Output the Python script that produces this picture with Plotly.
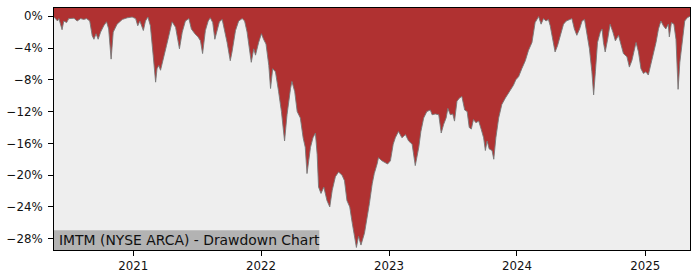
import plotly.graph_objects as go

# Drawdown of IMTM (percent)
dates = [
    "2020-05-20", "2020-05-22", "2020-05-30", "2020-06-03", "2020-06-12", "2020-06-17",
    "2020-06-25", "2020-07-01", "2020-07-16", "2020-07-25", "2020-08-04", "2020-08-13",
    "2020-08-21", "2020-08-30", "2020-09-06", "2020-09-11", "2020-09-17", "2020-09-23",
    "2020-09-30", "2020-10-09", "2020-10-17", "2020-10-23", "2020-10-30", "2020-11-05",
    "2020-11-16", "2020-12-01", "2020-12-15", "2020-12-29", "2021-01-08", "2021-01-14",
    "2021-01-20", "2021-01-30", "2021-02-05", "2021-02-12", "2021-02-19", "2021-02-27",
    "2021-03-06", "2021-03-10", "2021-03-15", "2021-03-20", "2021-03-29", "2021-04-06",
    "2021-04-13", "2021-04-22", "2021-05-02", "2021-05-13", "2021-05-21", "2021-05-30",
    "2021-06-09", "2021-06-16", "2021-06-26", "2021-07-05", "2021-07-12", "2021-07-18",
    "2021-07-26", "2021-08-03", "2021-08-09", "2021-08-16", "2021-08-22", "2021-08-29",
    "2021-09-04", "2021-09-12", "2021-09-19", "2021-09-26", "2021-10-05", "2021-10-10",
    "2021-10-20", "2021-10-29", "2021-11-08", "2021-11-15", "2021-11-22", "2021-11-29",
    "2021-12-04", "2021-12-11", "2021-12-16", "2021-12-25", "2022-01-02", "2022-01-08",
    "2022-01-15", "2022-01-23", "2022-01-28", "2022-02-03", "2022-02-11", "2022-02-20",
    "2022-02-28", "2022-03-09", "2022-03-16", "2022-03-26", "2022-03-30", "2022-04-07",
    "2022-04-14", "2022-04-23", "2022-05-01", "2022-05-07", "2022-05-12", "2022-05-22",
    "2022-05-29", "2022-06-05", "2022-06-10", "2022-06-14", "2022-06-21", "2022-06-29",
    "2022-07-08", "2022-07-16", "2022-07-23", "2022-08-01", "2022-08-10", "2022-08-20",
    "2022-08-27", "2022-09-03", "2022-09-11", "2022-09-18", "2022-09-24", "2022-09-30",
    "2022-10-06", "2022-10-13", "2022-10-23", "2022-10-30", "2022-11-06", "2022-11-14",
    "2022-11-20", "2022-11-28", "2022-12-02", "2022-12-12", "2022-12-22", "2022-12-28",
    "2023-01-05", "2023-01-13", "2023-01-19", "2023-01-28", "2023-02-07", "2023-02-17",
    "2023-02-26", "2023-03-08", "2023-03-17", "2023-03-27", "2023-04-02", "2023-04-10",
    "2023-04-19", "2023-04-29", "2023-05-04", "2023-05-13", "2023-05-23", "2023-05-30",
    "2023-06-06", "2023-06-13", "2023-06-18", "2023-06-25", "2023-07-02", "2023-07-07",
    "2023-07-14", "2023-07-21", "2023-07-28", "2023-08-05", "2023-08-12", "2023-08-18",
    "2023-08-24", "2023-08-30", "2023-09-06", "2023-09-14", "2023-09-21", "2023-09-28",
    "2023-10-03", "2023-10-08", "2023-10-14", "2023-10-22", "2023-10-27", "2023-11-02",
    "2023-11-10", "2023-11-19", "2023-11-29", "2023-12-08", "2023-12-16", "2023-12-22",
    "2023-12-29", "2024-01-06", "2024-01-15", "2024-01-25", "2024-02-03", "2024-02-13",
    "2024-02-22", "2024-03-03", "2024-03-10", "2024-03-17", "2024-03-24", "2024-03-31",
    "2024-04-05", "2024-04-13", "2024-04-19", "2024-04-26", "2024-05-04", "2024-05-13",
    "2024-05-21", "2024-05-30", "2024-06-06", "2024-06-13", "2024-06-20", "2024-06-28",
    "2024-07-05", "2024-07-12", "2024-07-19", "2024-07-26", "2024-08-02", "2024-08-07",
    "2024-08-12", "2024-08-18", "2024-08-26", "2024-08-31", "2024-09-04", "2024-09-09",
    "2024-09-16", "2024-09-23", "2024-10-01", "2024-10-08", "2024-10-17", "2024-10-24",
    "2024-10-31", "2024-11-10", "2024-11-17", "2024-11-24", "2024-12-01", "2024-12-06",
    "2024-12-13", "2024-12-20", "2024-12-27", "2025-01-03", "2025-01-10", "2025-01-17",
    "2025-01-25", "2025-02-01", "2025-02-08", "2025-02-15", "2025-02-22", "2025-03-01",
    "2025-03-08", "2025-03-11", "2025-03-17", "2025-03-24", "2025-03-30", "2025-04-05",
    "2025-04-10", "2025-04-18", "2025-04-24", "2025-05-01", "2025-05-07", "2025-05-09",
]
drawdown = [
    -0.1, -0.2, -0.6, -0.3, -1.7, -0.6,
    -0.8, -0.3, -0.25, -0.6, -0.3, -0.4,
    -0.3, -0.6, -2.45, -2.9, -2.2, -2.9,
    -2.0, -1.2, -0.7, -1.6, -5.4, -2.0,
    -1.0, -0.4, -0.2, -0.1, -0.3, -1.2,
    -0.6, -1.8, -0.6, -0.1, -1.2, -4.9,
    -8.3, -6.6, -6.2, -6.8, -5.3, -3.7,
    -2.4, -0.7, -1.4, -4.1, -2.0, -0.6,
    -0.3, -1.6, -2.2, -2.6, -3.1, -4.7,
    -1.8, -0.6, -0.2, -0.8, -2.9, -1.8,
    -0.7, -0.4, -1.8, -3.3, -5.6, -4.5,
    -1.8, -0.6, -0.3, -0.6, -2.0, -4.1,
    -5.8, -4.1, -4.9, -3.3, -2.2, -2.9,
    -3.5, -6.2, -9.1, -6.6, -7.0, -9.5,
    -12.0, -15.7, -12.4, -9.1, -8.2, -9.5,
    -12.0, -12.8, -15.3, -16.5, -19.8, -16.5,
    -15.3, -14.7, -17.4, -21.5, -22.3, -21.5,
    -23.2, -24.0, -21.9, -20.2, -19.6, -20.0,
    -20.7, -23.2, -24.0, -26.0, -27.7, -29.1,
    -27.7, -28.8, -27.3, -25.6, -23.6, -21.1,
    -19.8, -18.6, -17.8, -18.2, -18.4, -18.6,
    -18.2, -16.1, -15.3, -14.5, -15.3, -14.9,
    -15.7, -16.1, -18.8, -16.5, -14.5, -12.8,
    -12.0, -11.8, -12.4, -12.3, -12.4, -14.7,
    -13.6, -12.8, -11.6, -12.4, -12.3, -13.2,
    -10.7, -10.3, -10.1, -11.8, -12.0, -14.0,
    -14.2, -13.0, -13.4, -13.2, -14.2, -15.3,
    -16.9, -15.7, -16.7, -16.9, -18.0, -15.3,
    -12.8, -11.1, -10.3, -9.7, -9.1, -8.7,
    -8.0, -7.6, -6.6, -5.6, -4.3, -3.3,
    -0.8, -0.05, -1.0, -0.3, -0.6, -0.4,
    -1.2, -3.3, -4.5, -3.7, -2.4, -1.0,
    -0.6, -0.4, -0.3, -1.6, -2.4, -1.6,
    -0.6, -0.4, -2.0, -4.1, -7.0, -9.9,
    -7.0, -3.3, -2.0, -1.6, -3.3, -4.5,
    -2.9, -1.0, -2.0, -3.1, -2.4, -3.7,
    -4.7, -5.1, -6.4, -5.6, -4.1, -3.3,
    -4.5, -6.6, -7.2, -7.0, -7.4, -6.2,
    -4.5, -3.3, -1.6, -0.6, -1.2, -1.6,
    -1.0, -2.6, -0.8, -1.0, -2.9, -9.2,
    -5.8, -2.4, -0.6, -0.2, -0.05, 0.0,
]

y_tick_vals = [0, -4, -8, -12, -16, -20, -24, -28]
y_tick_text = ["0%", "\u22124%", "\u22128%", "\u221212%", "\u221216%", "\u221220%", "\u221224%", "\u221228%"]
x_tick_vals = ["2021-01-01", "2022-01-01", "2023-01-01", "2024-01-01", "2025-01-01"]
x_tick_text = ["2021", "2022", "2023", "2024", "2025"]
title_text = "IMTM (NYSE ARCA) - Drawdown Chart"

Y_TOP = 1.035
Y_BOTTOM = -29.42
RED = "#b03131"
BG = "#eeeeee"
FONT = "DejaVu Sans"

fig = go.Figure()
fig.add_trace(go.Scatter(
    x=dates, y=[Y_TOP] * len(dates), mode="lines",
    line=dict(width=0, color=RED), hoverinfo="skip", showlegend=False,
))
fig.add_trace(go.Scatter(
    x=dates, y=drawdown, mode="lines", fill="tonexty", fillcolor=RED,
    line=dict(width=1, color="rgba(120,120,120,0.9)"), showlegend=False,
))

fig.update_layout(
    width=700, height=280,
    margin=dict(l=53, r=10, t=7, b=28),
    paper_bgcolor="white", plot_bgcolor=BG,
    font=dict(family=FONT, size=11.8, color="#111111"),
    xaxis=dict(
        range=[dates[0], dates[-1]], tickvals=x_tick_vals, ticktext=x_tick_text,
        showgrid=False, zeroline=False, showline=True, mirror=True,
        linecolor="black", linewidth=1, ticks="outside", ticklen=5,
        tickcolor="black", tickwidth=1,
    ),
    yaxis=dict(
        range=[Y_BOTTOM, Y_TOP], tickvals=y_tick_vals, ticktext=y_tick_text,
        showgrid=False, zeroline=False, showline=True, mirror=True,
        linecolor="black", linewidth=1, ticks="outside", ticklen=5,
        tickcolor="black", tickwidth=1, ticklabelstandoff=3,
    ),
    shapes=[dict(
        type="rect", xref="paper", yref="paper", x0=0, x1=0.4171, y0=0, y1=0.0816,
        fillcolor="#b3b3b3", line=dict(width=0), layer="above",
    )],
    annotations=[dict(
        text=title_text, xref="paper", yref="paper", x=0.0053, y=0.0408,
        xanchor="left", yanchor="middle", showarrow=False,
        font=dict(family=FONT, size=13.9, color="#111111"),
    )],
)

fig.write_html("out.html")
